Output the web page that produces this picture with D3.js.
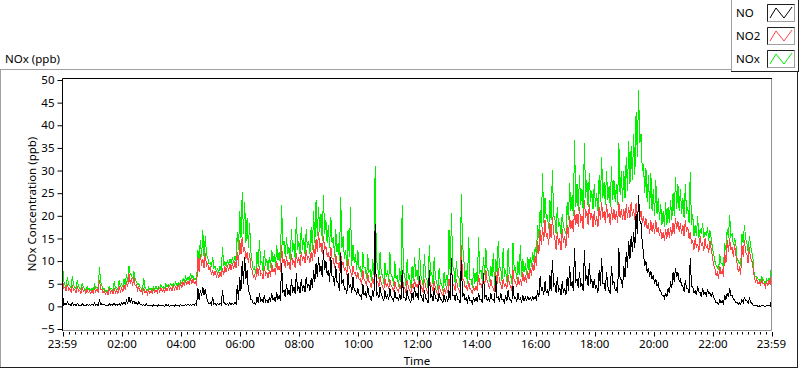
<!DOCTYPE html>
<html>
<head>
<meta charset="utf-8">
<script src="https://cdn.jsdelivr.net/npm/d3@7"></script>
<style>
  body { margin: 0; background: #fff; }
  svg { display: block; }
  text { font-family: "Noto Sans", sans-serif; fill: #000; }
</style>
</head>
<body>
<svg id="chart" width="800" height="369"></svg>
<script>
// series names and colours (legend order)
var seriesNames = ["NO", "NO2", "NOx"];
var seriesColors = ["#000000", "#ff4444", "#00f000"];

// each 5-minute window from the left edge (23:59): upper reading, then lower reading 2.5 min later
var stepMinutes = 5;

var noHigh = [
  2.9, 0.6, 0.9, 0.5, 0.8, 0.4, 0.7, 0.3, 0.6, 0.2, 0.5, 0.4,
  0.5, 0.7, 0.4, 1.5, 0.6, 0.5, 0.3, 0.6, 0.4, 0.7, 0.5, 0.6,
  0.8, 1.0, 1.3, 2.0, 1.6, 1.2, 0.9, 1.0, 0.5, 0.4, 0.6, 0.3,
  0.3, 0.4, 0.2, 0.3, 0.3, 0.2, 0.4, 0.3, 0.3, 0.2, 0.4, 0.3,
  0.4, 0.3, 0.4, 0.5, 0.4, 0.5, 0.6, 4.0, 3.6, 4.2, 3.8, 1.0,
  0.8, 2.1, 0.7, 0.6, 0.8, 3.6, 0.7, 0.6, 0.8, 0.7, 0.9, 4.7,
  6.5, 10.0, 11.0, 8.0, 3.0, 1.4, 0.8, 2.0, 2.9, 1.6, 2.5, 1.4,
  2.0, 2.9, 1.8, 3.2, 2.4, 9.5, 3.6, 5.0, 3.6, 6.0, 4.3, 7.3,
  4.5, 6.0, 4.8, 6.5, 5.0, 6.2, 8.0, 9.5, 11.0, 9.0, 12.4, 10.0,
  8.0, 11.0, 6.5, 9.0, 5.0, 11.7, 6.0, 4.0, 7.3, 5.0, 6.5, 3.6,
  4.0, 2.5, 5.0, 3.0, 4.5, 2.1, 3.5, 18.3, 3.0, 4.3, 2.0, 3.5,
  2.5, 4.0, 1.8, 3.5, 2.0, 2.8, 8.0, 2.0, 3.6, 1.5, 3.0, 4.3,
  3.0, 6.6, 2.0, 3.5, 1.5, 8.0, 2.5, 4.0, 1.8, 3.0, 1.4, 2.5,
  2.0, 3.5, 10.6, 2.5, 3.0, 1.5, 10.2, 3.0, 1.8, 2.5, 1.2, 2.0,
  2.0, 3.0, 1.5, 7.3, 2.5, 1.8, 3.0, 1.5, 6.6, 2.0, 3.0, 1.5,
  2.5, 3.5, 1.5, 4.5, 2.0, 3.0, 1.8, 2.5, 2.0, 2.2, 2.0, 2.1,
  2.1, 3.5, 6.6, 4.0, 5.5, 3.6, 7.0, 10.2, 5.0, 6.5, 4.0, 5.5,
  4.0, 6.5, 9.0, 5.5, 12.8, 6.0, 7.5, 5.0, 12.4, 7.0, 9.5, 6.0,
  6.0, 4.5, 8.0, 10.6, 5.0, 7.5, 3.5, 9.0, 5.5, 4.0, 12.8, 6.0,
  9.0, 12.0, 14.5, 15.5, 16.5, 20.5, 24.6, 18.3, 11.7, 9.9, 8.5, 7.7,
  7.0, 6.0, 5.0, 3.5, 2.5, 3.0, 4.0, 5.5, 7.5, 8.4, 7.5, 6.0,
  4.5, 5.8, 4.0, 10.6, 4.3, 3.5, 4.5, 3.0, 4.0, 3.2, 3.8, 3.0,
  2.9, 1.5, 0.8, 1.5, 1.2, 2.5, 3.0, 4.0, 2.5, 1.5, 1.0, 0.8,
  1.5, 2.1, 1.2, 1.8, 0.7, 0.3, 0.2, 0.1, 0.2, 0.1, 0.2, 0.3, 1.4
];
var noLow = [
  0.3, 0.3, 0.4, 0.2, 0.3, 0.2, 0.3, 0.1, 0.3, 0.1, 0.2, 0.2,
  0.2, 0.3, 0.2, 0.4, 0.3, 0.2, 0.1, 0.3, 0.2, 0.3, 0.2, 0.3,
  0.4, 0.5, 0.6, 0.9, 0.8, 0.6, 0.4, 0.5, 0.2, 0.1, 0.2, 0.1,
  0.0, 0.1, 0.0, 0.1, 0.1, 0.0, 0.1, 0.0, 0.1, 0.0, 0.1, 0.1,
  0.1, 0.1, 0.2, 0.2, 0.2, 0.2, 0.3, 1.5, 2.2, 2.5, 2.0, 0.5,
  0.4, 0.5, 0.3, 0.3, 0.4, 0.8, 0.4, 0.3, 0.4, 0.4, 0.5, 1.5,
  3.5, 5.0, 6.0, 3.5, 1.5, 0.6, 0.4, 0.8, 1.2, 0.8, 1.0, 0.7,
  1.0, 1.4, 0.9, 1.5, 1.2, 3.0, 2.0, 2.5, 2.2, 3.0, 2.8, 3.5,
  3.0, 3.5, 3.2, 4.0, 3.5, 4.0, 5.5, 6.5, 7.5, 6.5, 8.0, 7.0,
  5.5, 6.5, 4.5, 5.5, 3.5, 5.0, 3.8, 2.8, 4.0, 3.0, 3.5, 2.5,
  2.5, 1.5, 2.5, 1.8, 2.5, 1.2, 2.0, 2.5, 1.8, 2.5, 1.2, 1.8,
  1.5, 2.0, 1.0, 1.8, 1.2, 1.5, 2.0, 1.2, 1.8, 0.8, 1.5, 2.0,
  1.5, 2.5, 1.0, 1.8, 0.8, 2.0, 1.2, 1.8, 1.0, 1.5, 0.8, 1.2,
  1.0, 1.5, 2.5, 1.2, 1.5, 0.8, 2.0, 1.5, 1.0, 1.2, 0.6, 1.0,
  1.0, 1.5, 0.8, 2.0, 1.2, 0.9, 1.5, 0.8, 1.8, 1.0, 1.5, 0.8,
  1.2, 1.5, 0.8, 1.8, 1.0, 1.4, 1.0, 1.2, 1.4, 1.5, 1.4, 1.5,
  1.5, 2.0, 3.5, 2.5, 3.0, 2.2, 3.5, 4.5, 3.0, 3.5, 2.5, 3.0,
  2.5, 3.5, 4.5, 3.5, 5.5, 4.0, 4.5, 3.5, 5.5, 4.5, 5.0, 4.0,
  4.0, 3.0, 4.5, 5.0, 3.5, 4.5, 2.8, 5.0, 3.5, 3.0, 6.0, 4.0,
  6.5, 8.5, 10.5, 12.0, 13.0, 16.0, 19.0, 14.0, 9.0, 7.5, 6.5, 6.0,
  5.0, 4.5, 3.5, 2.5, 1.8, 2.0, 3.0, 4.0, 5.5, 6.5, 5.5, 4.5,
  3.2, 4.0, 3.0, 4.5, 3.0, 2.5, 3.2, 2.2, 2.8, 2.4, 2.8, 2.2,
  2.0, 0.8, 0.4, 0.8, 0.6, 1.5, 2.0, 2.5, 1.5, 0.8, 0.5, 0.4,
  0.8, 1.2, 0.7, 1.0, 0.3, 0.1, 0.0, 0.0, 0.1, 0.0, 0.1, 0.1, 0.5
];

var no2High = [
  5.8, 4.2, 5.0, 4.0, 4.8, 3.8, 4.4, 3.6, 4.2, 3.5, 3.8, 3.4,
  3.6, 4.0, 3.8, 5.8, 3.8, 3.4, 3.2, 3.8, 3.4, 4.0, 3.6, 4.4,
  4.0, 4.8, 5.5, 7.3, 6.2, 6.5, 4.8, 4.3, 3.6, 4.0, 3.4, 3.6,
  3.5, 3.8, 3.6, 3.9, 4.0, 3.8, 4.2, 4.4, 4.2, 4.6, 4.4, 4.8,
  5.0, 5.4, 5.8, 5.6, 6.2, 6.0, 5.4, 11.0, 11.5, 10.5, 11.7, 9.5,
  8.8, 8.0, 7.8, 7.3, 7.6, 8.5, 8.8, 9.1, 9.4, 9.6, 9.9, 12.0,
  14.6, 15.4, 13.0, 12.0, 11.7, 8.0, 7.0, 8.5, 9.0, 7.3, 8.8, 7.5,
  8.0, 9.5, 8.5, 10.0, 9.0, 13.5, 10.5, 11.0, 9.8, 11.5, 10.2, 11.7,
  10.8, 12.0, 11.2, 12.4, 11.0, 12.0, 13.5, 14.8, 16.5, 14.0, 15.5, 13.2,
  12.0, 13.2, 10.5, 11.5, 9.5, 12.0, 9.8, 8.5, 10.5, 8.0, 9.0, 7.5,
  7.5, 6.0, 8.0, 5.5, 7.3, 5.0, 6.5, 9.0, 5.5, 6.6, 4.5, 6.0,
  5.0, 6.0, 4.2, 5.5, 3.8, 5.0, 7.0, 4.0, 5.8, 3.6, 5.0, 6.0,
  5.0, 6.6, 4.0, 6.0, 3.5, 6.8, 4.5, 5.5, 3.2, 4.8, 3.0, 4.0,
  4.0, 6.0, 9.0, 4.5, 6.0, 3.8, 13.5, 6.0, 4.5, 5.5, 3.5, 4.5,
  4.5, 7.0, 5.0, 6.5, 8.0, 5.0, 6.0, 4.0, 7.5, 8.5, 5.0, 6.0,
  5.0, 7.0, 4.5, 8.0, 5.5, 6.5, 6.0, 7.5, 6.8, 7.8, 8.5, 9.5,
  11.0, 14.5, 16.9, 17.5, 19.0, 16.0, 18.5, 19.8, 15.0, 16.5, 15.0, 17.0,
  15.5, 18.0, 20.0, 19.0, 21.3, 20.5, 22.0, 20.0, 23.5, 21.0, 22.5, 20.5,
  21.0, 20.0, 22.0, 23.0, 21.0, 22.5, 20.5, 22.0, 21.5, 21.0, 23.0, 21.5,
  21.5, 22.5, 22.0, 23.0, 21.5, 22.8, 22.0, 21.0, 20.0, 19.5, 18.3, 19.0,
  18.5, 19.0, 17.5, 17.0, 16.5, 17.0, 17.3, 17.5, 18.5, 19.5, 18.8, 18.3,
  18.0, 19.0, 17.5, 16.5, 14.5, 15.0, 13.8, 15.5, 14.0, 15.0, 13.5, 14.5,
  11.0, 8.5, 7.5, 9.0, 8.0, 12.0, 14.6, 15.0, 13.2, 13.8, 9.5, 8.5,
  13.5, 14.6, 11.5, 13.0, 10.2, 6.5, 6.0, 5.5, 6.0, 5.0, 5.6, 5.8, 7.5
];
var no2Low = [
  4.0, 3.4, 3.6, 3.0, 3.5, 3.0, 3.4, 2.8, 3.2, 2.8, 3.0, 2.8,
  2.9, 3.2, 3.0, 3.8, 3.0, 2.7, 2.6, 3.0, 2.8, 3.0, 2.8, 3.2,
  3.2, 3.6, 4.2, 5.0, 4.5, 4.5, 3.6, 3.3, 2.8, 3.0, 2.7, 2.9,
  2.9, 3.1, 3.0, 3.2, 3.3, 3.2, 3.4, 3.6, 3.5, 3.7, 3.6, 3.9,
  4.1, 4.5, 4.8, 4.7, 5.0, 5.0, 4.6, 7.5, 9.0, 8.5, 9.0, 8.0,
  7.0, 6.8, 6.5, 6.2, 6.5, 7.0, 7.5, 7.8, 8.0, 8.2, 8.5, 9.0,
  11.5, 12.0, 10.5, 9.5, 8.5, 6.5, 5.8, 6.8, 7.0, 6.0, 7.0, 6.2,
  6.5, 7.5, 7.0, 8.0, 7.5, 9.5, 8.5, 9.0, 8.0, 9.5, 8.5, 9.5,
  9.0, 10.0, 9.5, 10.5, 9.5, 10.0, 11.0, 12.0, 13.0, 11.5, 12.5, 11.0,
  10.0, 10.5, 8.5, 9.5, 7.8, 9.0, 8.0, 7.0, 8.5, 6.5, 7.2, 6.0,
  5.8, 4.8, 6.0, 4.5, 5.5, 4.0, 5.0, 5.5, 4.2, 5.0, 3.6, 4.5,
  3.8, 4.5, 3.2, 4.2, 3.0, 3.8, 4.5, 3.0, 4.2, 2.8, 3.8, 4.2,
  3.8, 4.8, 3.0, 4.2, 2.8, 4.5, 3.4, 4.0, 2.5, 3.5, 2.4, 3.0,
  3.0, 4.2, 5.0, 3.4, 4.2, 2.9, 6.0, 4.2, 3.4, 4.0, 2.7, 3.4,
  3.4, 4.8, 3.8, 4.6, 5.5, 3.8, 4.4, 3.1, 5.0, 5.5, 3.8, 4.4,
  3.8, 5.0, 3.5, 5.5, 4.2, 4.8, 4.6, 5.5, 5.2, 6.0, 6.8, 7.8,
  9.0, 11.5, 13.5, 14.5, 15.5, 13.5, 15.0, 16.0, 12.5, 13.5, 12.5, 14.0,
  13.0, 15.0, 17.0, 16.5, 18.0, 17.5, 18.5, 17.0, 19.5, 18.0, 19.0, 17.5,
  18.0, 17.5, 19.0, 19.5, 18.5, 19.5, 18.0, 19.0, 19.0, 18.5, 19.5, 19.0,
  19.0, 19.5, 19.5, 20.0, 19.0, 20.0, 19.5, 18.5, 17.5, 17.0, 16.0, 16.5,
  16.0, 16.5, 15.5, 15.0, 14.5, 15.0, 15.2, 15.5, 16.0, 17.0, 16.5, 16.0,
  15.5, 16.5, 15.0, 14.0, 12.5, 13.0, 12.0, 13.5, 12.2, 13.0, 11.8, 12.5,
  9.0, 6.8, 6.0, 7.2, 6.5, 9.5, 12.0, 12.5, 11.0, 11.5, 7.8, 7.0,
  11.0, 12.0, 9.5, 10.5, 8.5, 5.4, 5.0, 4.6, 5.0, 4.2, 4.6, 4.8, 6.0
];

var noxHigh = [
  9.5, 4.8, 6.5, 4.5, 6.8, 4.2, 5.8, 4.0, 5.2, 3.8, 4.4, 3.9,
  4.0, 4.8, 4.2, 8.6, 4.5, 3.9, 3.6, 4.4, 4.0, 5.5, 4.2, 5.8,
  5.0, 6.0, 7.2, 8.9, 7.0, 7.8, 5.5, 5.0, 4.0, 6.2, 3.8, 4.2,
  4.0, 4.2, 4.4, 4.3, 4.8, 4.4, 5.0, 4.8, 5.1, 5.0, 5.4, 5.2,
  5.6, 6.2, 6.6, 6.4, 7.3, 6.8, 6.2, 12.4, 14.6, 16.8, 15.5, 10.8,
  9.6, 11.0, 8.8, 8.2, 9.0, 13.0, 9.9, 10.2, 10.5, 10.8, 11.2, 16.5,
  21.0, 25.2, 23.0, 19.5, 18.3, 9.9, 8.8, 12.0, 14.7, 10.0, 12.5, 10.5,
  11.0, 12.5, 11.5, 13.5, 12.0, 22.4, 14.5, 15.4, 13.0, 17.0, 14.0, 19.8,
  14.5, 17.6, 15.0, 17.0, 14.5, 17.5, 21.0, 23.5, 22.0, 20.5, 24.6, 19.0,
  18.0, 19.8, 15.4, 17.0, 14.0, 24.2, 15.5, 12.5, 16.9, 21.9, 13.5, 11.5,
  12.4, 9.0, 12.0, 8.5, 11.5, 8.0, 10.5, 31.0, 9.0, 12.0, 7.0, 9.5,
  8.0, 12.0, 6.6, 10.0, 7.0, 8.5, 22.4, 7.0, 10.5, 6.8, 9.0, 11.0,
  8.0, 12.8, 6.0, 11.5, 6.0, 13.5, 7.5, 11.0, 5.5, 8.5, 5.0, 7.5,
  7.0, 16.9, 20.7, 8.0, 10.0, 6.5, 24.8, 10.5, 8.0, 15.4, 6.0, 8.5,
  7.5, 15.4, 8.0, 11.0, 12.8, 8.0, 9.0, 11.7, 10.5, 14.5, 8.5, 12.8,
  8.0, 12.8, 7.0, 13.9, 8.5, 10.0, 13.5, 10.5, 9.5, 11.0, 11.0, 12.0,
  13.0, 18.0, 21.3, 29.4, 24.0, 20.0, 23.5, 30.1, 19.5, 22.0, 18.5, 20.5,
  16.9, 23.0, 27.2, 24.5, 36.7, 27.0, 29.0, 26.0, 36.0, 28.0, 29.4, 25.5,
  27.0, 25.0, 29.0, 33.0, 27.5, 30.0, 26.5, 31.0, 28.0, 27.0, 36.0, 30.0,
  30.0, 33.0, 36.5, 35.5, 38.0, 43.0, 47.8, 38.0, 31.5, 30.5, 29.0, 29.4,
  26.0, 28.0, 24.0, 22.5, 21.0, 23.0, 22.0, 23.5, 25.0, 28.6, 27.0, 26.0,
  24.0, 27.0, 22.0, 29.7, 20.5, 18.0, 20.0, 17.0, 18.5, 16.5, 17.5, 16.8,
  13.0, 10.0, 8.8, 11.5, 9.5, 14.0, 17.0, 20.2, 16.0, 15.0, 10.5, 9.5,
  16.0, 18.0, 14.0, 15.5, 12.0, 7.0, 6.5, 6.0, 6.5, 5.5, 6.0, 6.2, 9.5
];
var noxLow = [
  5.5, 4.2, 4.8, 4.0, 4.6, 3.8, 4.4, 3.6, 4.2, 3.5, 3.8, 3.4,
  3.6, 4.0, 3.8, 5.5, 3.8, 3.4, 3.2, 3.8, 3.4, 4.0, 3.6, 4.4,
  4.2, 4.8, 5.5, 7.0, 6.0, 6.2, 4.8, 4.3, 3.6, 4.2, 3.5, 3.6,
  3.6, 3.8, 3.8, 3.9, 4.1, 3.9, 4.3, 4.4, 4.4, 4.6, 4.6, 4.8,
  5.0, 5.4, 5.8, 5.6, 6.2, 6.0, 5.5, 10.5, 11.0, 11.0, 11.5, 9.5,
  8.8, 8.5, 7.8, 7.5, 7.8, 9.0, 8.8, 9.1, 9.4, 9.6, 9.9, 12.5,
  15.0, 16.0, 14.0, 13.0, 12.0, 8.0, 7.2, 8.8, 9.5, 7.5, 9.0, 7.8,
  8.5, 9.8, 8.8, 10.2, 9.2, 13.5, 10.8, 11.5, 10.0, 12.0, 10.5, 12.5,
  11.5, 12.5, 11.5, 12.8, 11.5, 12.5, 14.0, 15.5, 16.5, 14.5, 16.0, 14.0,
  13.0, 14.0, 11.0, 12.0, 10.0, 13.0, 10.5, 9.0, 11.0, 9.0, 9.5, 8.0,
  8.0, 6.5, 8.5, 6.0, 7.5, 5.5, 7.0, 10.0, 6.0, 7.0, 5.0, 6.5,
  5.5, 6.5, 4.5, 6.0, 4.2, 5.5, 7.5, 4.5, 6.0, 4.0, 5.5, 6.5,
  5.5, 7.0, 4.5, 6.5, 4.0, 7.0, 5.0, 6.0, 3.6, 5.0, 3.4, 4.5,
  4.5, 6.5, 9.0, 5.0, 6.5, 4.2, 13.5, 6.5, 5.0, 6.0, 4.0, 5.0,
  5.0, 7.5, 5.5, 7.0, 8.0, 5.5, 6.5, 4.5, 7.5, 8.5, 5.5, 6.5,
  5.5, 7.5, 5.0, 8.0, 6.0, 7.0, 6.5, 7.5, 7.0, 8.0, 8.8, 9.8,
  11.5, 15.0, 17.5, 18.5, 19.5, 17.0, 19.0, 20.0, 16.0, 17.5, 16.0, 17.5,
  16.0, 19.0, 21.0, 20.0, 22.0, 21.0, 22.5, 21.0, 24.0, 22.0, 23.0, 21.5,
  22.0, 21.0, 23.0, 24.0, 22.5, 23.5, 22.0, 23.5, 23.0, 22.5, 24.5, 23.0,
  24.0, 25.5, 27.0, 28.0, 29.0, 33.0, 36.0, 30.0, 25.0, 23.0, 21.5, 21.0,
  20.0, 20.5, 19.0, 18.0, 17.5, 18.0, 18.5, 19.0, 20.0, 21.5, 21.0, 20.5,
  19.5, 20.5, 18.5, 18.0, 15.5, 15.5, 15.0, 16.0, 15.0, 15.5, 14.5, 15.0,
  11.5, 9.0, 8.0, 9.5, 8.5, 12.5, 15.0, 15.5, 13.5, 14.0, 10.0, 9.0,
  14.0, 15.0, 12.0, 13.5, 10.5, 6.5, 6.0, 5.5, 6.0, 5.0, 5.6, 5.8, 7.5
];

// time axis labels (first and last are the axis ends)
var tickLabels = ["23:59", "02:00", "04:00", "06:00", "08:00", "10:00", "12:00",
                  "14:00", "16:00", "18:00", "20:00", "22:00", "23:59"];
var yTicks = [-5, 0, 5, 10, 15, 20, 25, 30, 35, 40, 45, 50];

var svg = d3.select("#chart");

// plot area
var plot = { left: 62, top: 78, right: 772, bottom: 330 };

var x = d3.scaleLinear().domain([0, 1440]).range([plot.left + 0.5, plot.right - 0.5]);
var y = d3.scaleLinear().domain([-5, 50]).range([329, 80]);

// outer panel (sunken frame)
svg.append("line").attr("x1", 0).attr("x2", 731).attr("y1", 69.5).attr("y2", 69.5).attr("stroke", "#a0a0a0");
svg.append("line").attr("x1", 0.5).attr("x2", 0.5).attr("y1", 69).attr("y2", 368).attr("stroke", "#a0a0a0");
svg.append("line").attr("x1", 0).attr("x2", 798).attr("y1", 367.5).attr("y2", 367.5).attr("stroke", "#202020");
svg.append("line").attr("x1", 797.5).attr("x2", 797.5).attr("y1", 72).attr("y2", 368).attr("stroke", "#202020");

svg.append("text").attr("x", 5).attr("y", 63).style("font-size", "11.5px").text("NOx (ppb)");

// legend box
var legend = svg.append("g");
legend.append("line").attr("x1", 731.5).attr("x2", 731.5).attr("y1", 0).attr("y2", 72).attr("stroke", "#a0a0a0");
legend.append("line").attr("x1", 731).attr("x2", 799).attr("y1", 71.5).attr("y2", 71.5).attr("stroke", "#202020");
legend.append("line").attr("x1", 798.5).attr("x2", 798.5).attr("y1", 0).attr("y2", 72).attr("stroke", "#202020");

seriesNames.forEach(function(name, i) {
  var top = 4 + i * 23;
  legend.append("text").attr("x", 736).attr("y", top + 13).style("font-size", "11.5px").text(name);
  legend.append("rect").attr("x", 767.5).attr("y", top + 0.5).attr("width", 27).attr("height", 17)
    .attr("fill", "#fff").attr("stroke", "#a0a0a0");
  legend.append("path").attr("d", "M767.5," + (top + 17.5) + "V" + (top + 0.5) + "H794.5")
    .attr("fill", "none").attr("stroke", "#202020");
  legend.append("path")
    .attr("d", d3.line()([[770, top + 14], [776, top + 4], [784, top + 14], [792, top + 3]]))
    .attr("fill", "none").attr("stroke", seriesColors[i]).attr("stroke-width", 1);
});

// plot frame
svg.append("rect").attr("x", plot.left).attr("y", plot.top).attr("width", plot.right - plot.left)
  .attr("height", plot.bottom - plot.top).attr("fill", "#fff");
svg.append("path").attr("d", "M" + (plot.right - 0.5) + "," + plot.top + "V" + (plot.bottom + 0.5) + "H" + plot.left)
  .attr("fill", "none").attr("stroke", "#909090");
svg.append("path").attr("d", "M" + (plot.left + 0.5) + "," + (plot.bottom + 1) + "V" + (plot.top + 0.5) + "H" + plot.right)
  .attr("fill", "none").attr("stroke", "#000");

// series lines: NOx first, NO last so black stays on top
svg.append("clipPath").attr("id", "clip").append("rect")
  .attr("x", plot.left + 1).attr("y", plot.top + 1)
  .attr("width", plot.right - plot.left - 2).attr("height", plot.bottom - plot.top - 1);

// alternate each window's upper and lower reading along the time axis
function toPoints(high, low) {
  var pts = [];
  high.forEach(function(v, i) {
    var t = i * stepMinutes;
    pts.push([t, v]);
    if (t + stepMinutes / 2 < 1440) pts.push([t + stepMinutes / 2, low[i]]);
  });
  return pts;
}

var seriesData = [toPoints(noHigh, noLow), toPoints(no2High, no2Low), toPoints(noxHigh, noxLow)];
var line = d3.line()
  .x(function(d) { return x(d[0]); })
  .y(function(d) { return y(d[1]); });

var lines = svg.append("g").attr("clip-path", "url(#clip)");
[2, 1, 0].forEach(function(k) {
  lines.append("path")
    .datum(seriesData[k])
    .attr("d", line)
    .attr("fill", "none")
    .attr("stroke", seriesColors[k])
    .attr("stroke-width", 1)
    .style("shape-rendering", "crispEdges");
});

// y axis
var yAxis = svg.append("g")
  .attr("transform", "translate(" + (plot.left + 0.5) + ",0)")
  .call(d3.axisLeft(y).tickValues(yTicks).tickSize(5).tickPadding(3));
yAxis.select(".domain").remove();
yAxis.selectAll("text").style("font-size", "11.5px").attr("fill", "#000");
yAxis.selectAll("line").attr("stroke", "#000");

svg.append("text")
  .attr("transform", "translate(36," + ((plot.top + plot.bottom) / 2) + ") rotate(-90)")
  .attr("text-anchor", "middle")
  .style("font-size", "11.5px")
  .text("NOx Concentration (ppb)");

// x axis: major ticks at labels, minor every 12 clock minutes
function labelMinutes(label, i) {
  if (i === 0) return 0;
  if (i === tickLabels.length - 1) return 1440;
  var p = label.split(":");
  return +p[0] * 60 + +p[1] + 1;
}
var majorTicks = tickLabels.map(labelMinutes);
var minorTicks = d3.range(1, 120).filter(function(k) { return k % 10 !== 0; })
  .map(function(k) { return k * 12 + 1; });

var xAxisG = svg.append("g").attr("transform", "translate(0," + (plot.bottom + 1) + ")");
xAxisG.selectAll(".minor").data(minorTicks).enter().append("line")
  .attr("x1", function(d) { return Math.round(x(d)) + 0.5; })
  .attr("x2", function(d) { return Math.round(x(d)) + 0.5; })
  .attr("y1", 1).attr("y2", 3.5).attr("stroke", "#000");
xAxisG.selectAll(".major").data(majorTicks).enter().append("line")
  .attr("x1", function(d) { return Math.round(x(d)) + 0.5; })
  .attr("x2", function(d) { return Math.round(x(d)) + 0.5; })
  .attr("y1", 1).attr("y2", 5.5).attr("stroke", "#000");
xAxisG.selectAll(".lbl").data(tickLabels).enter().append("text")
  .attr("x", function(d, i) { return x(majorTicks[i]); })
  .attr("y", 17)
  .attr("text-anchor", "middle")
  .style("font-size", "11.5px")
  .text(function(d) { return d; });

svg.append("text")
  .attr("x", (plot.left + plot.right) / 2).attr("y", 365)
  .attr("text-anchor", "middle")
  .style("font-size", "11.5px")
  .text("Time");
</script>
</body>
</html>
